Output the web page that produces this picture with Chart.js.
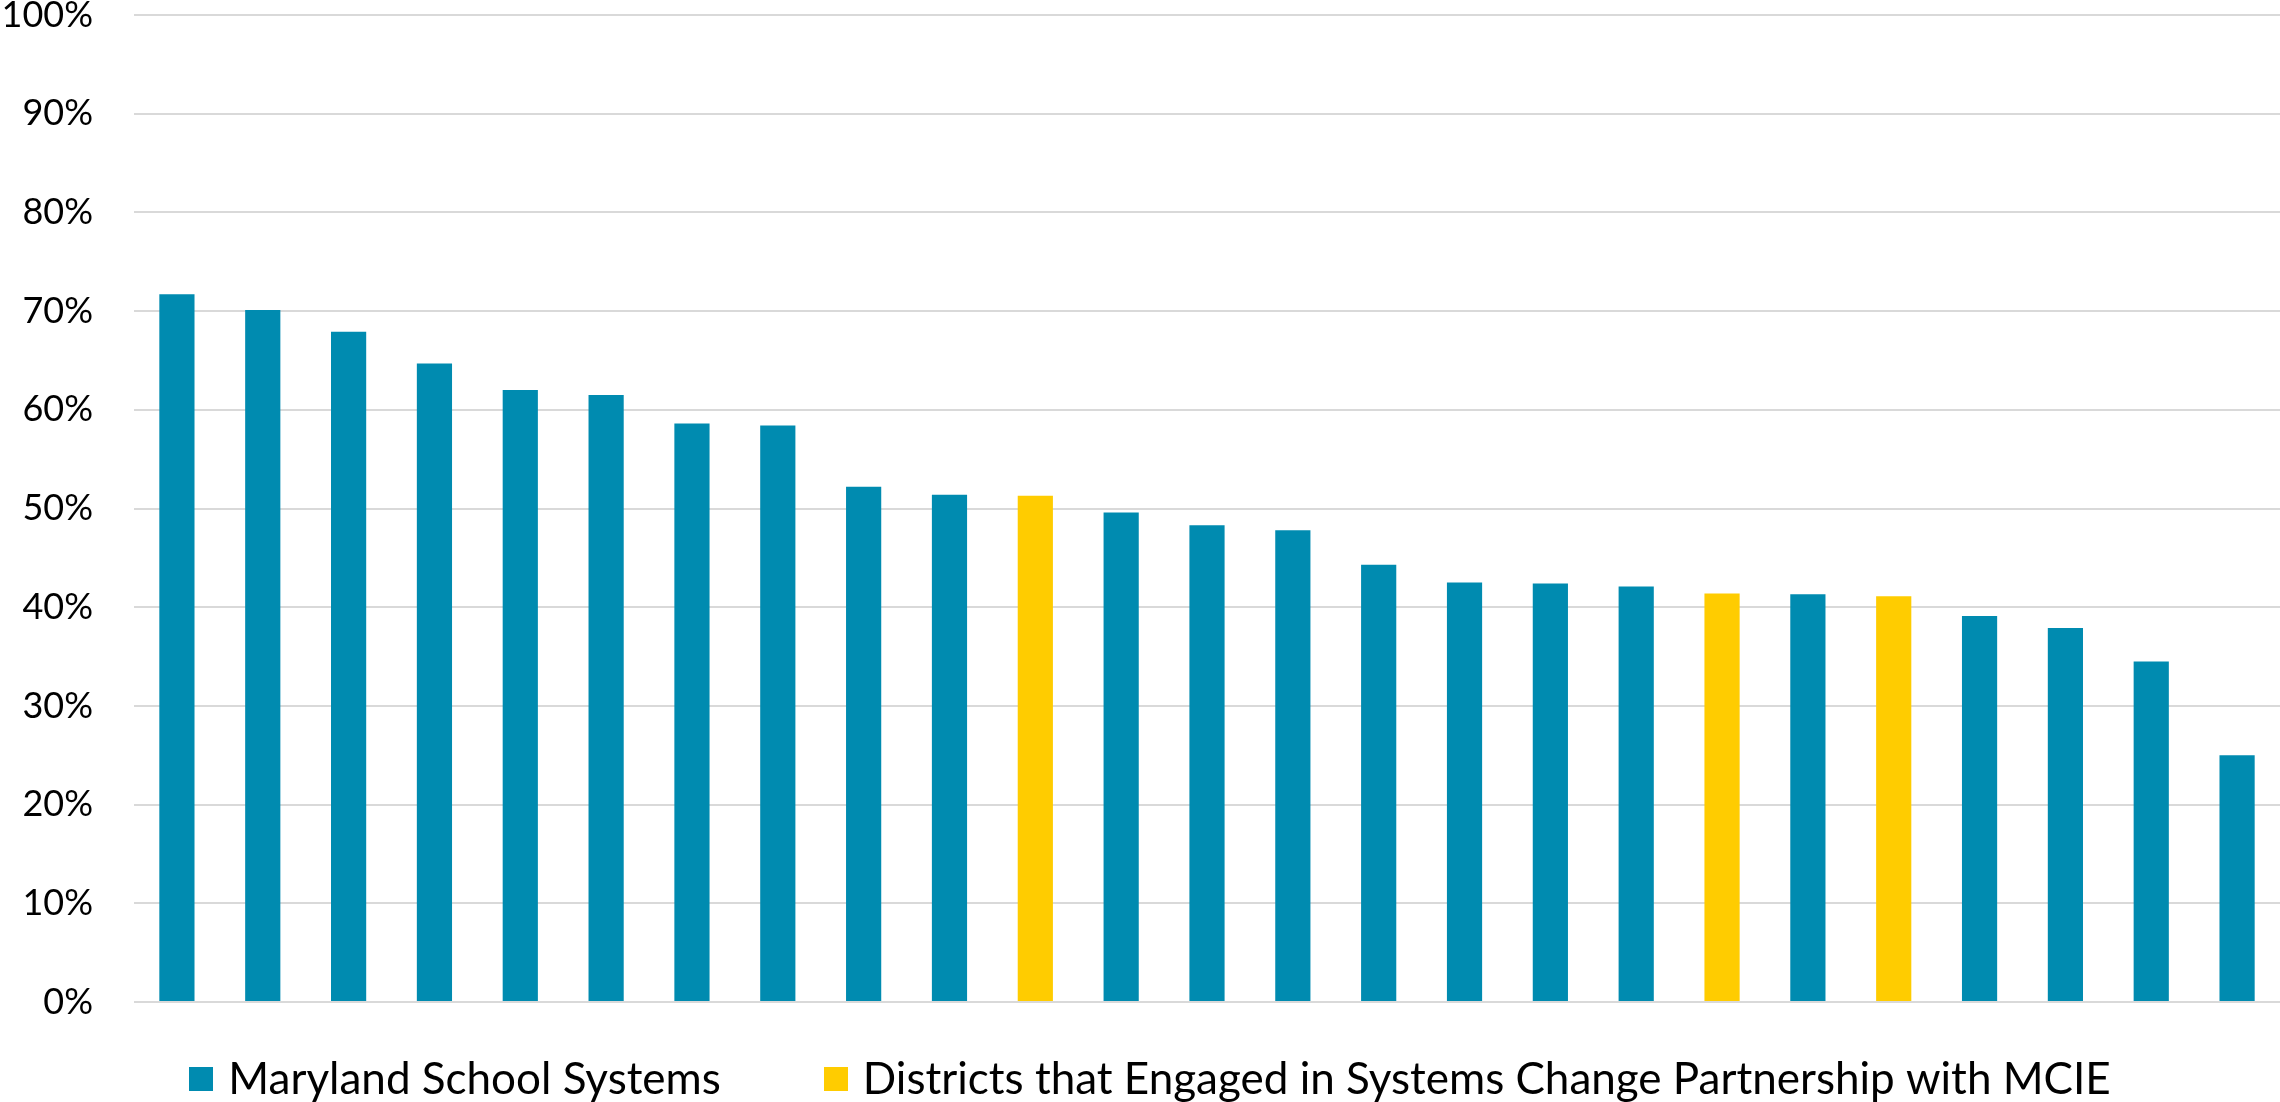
<!DOCTYPE html>
<html>
<head>
<meta charset="utf-8">
<script src="https://cdn.jsdelivr.net/npm/chart.js@4/dist/chart.umd.min.js"></script>
<style>
  html, body { margin: 0; padding: 0; background: #ffffff; }
  canvas { display: block; }
</style>
</head>
<body>
<canvas id="chart" width="2280" height="1102"></canvas>
<script>
// School systems ranked from highest to lowest share (%)
const categories = ['1','2','3','4','5','6','7','8','9','10','11','12','13',
                    '14','15','16','17','18','19','20','21','22','23','24','25'];

const marylandSystems = [71.7, 70.1, 67.9, 64.7, 62.0, 61.5, 58.6, 58.4, 52.2, 51.4,
                         null, 49.6, 48.3, 47.8, 44.3, 42.5, 42.4, 42.1, null, 41.3,
                         null, 39.1, 37.9, 34.5, 25.0];

const partnershipDistricts = [null, null, null, null, null, null, null, null, null, null,
                              51.3, null, null, null, null, null, null, null, 41.4, null,
                              41.1, null, null, null, null];

const yTicks = [0, 10, 20, 30, 40, 50, 60, 70, 80, 90, 100];

const seriesNames = ['Maryland School Systems',
                     'Districts that Engaged in Systems Change Partnership with MCIE'];

const TEAL = '#008bb0';
const GOLD = '#ffcc00';
const FONT = 'Lato, "Open Sans", sans-serif';

// Legend row drawn beneath the plot area
const bottomLegend = {
  id: 'bottomLegend',
  afterDraw(chart, args, opts) {
    const ctx = chart.ctx;
    ctx.save();
    ctx.font = opts.fontSize + 'px ' + FONT;
    ctx.textBaseline = 'middle';
    ctx.textAlign = 'left';
    const items = chart.data.datasets.map(ds => ({
      text: ds.label,
      color: ds.backgroundColor,
      w: ctx.measureText(ds.label).width
    }));
    const total = items.reduce((s, it) => s + opts.box + opts.gap + it.w, 0)
                + opts.spacing * (items.length - 1);
    let x = opts.centerX - total / 2;
    const y = opts.y;
    items.forEach(it => {
      ctx.fillStyle = it.color;
      ctx.fillRect(Math.round(x), Math.round(y - opts.box / 2), opts.box, opts.box);
      ctx.fillStyle = '#000000';
      ctx.fillText(it.text, x + opts.box + opts.gap, y + 1);
      x += opts.box + opts.gap + it.w + opts.spacing;
    });
    ctx.restore();
  }
};

new Chart(document.getElementById('chart'), {
  type: 'bar',
  data: {
    labels: categories,
    datasets: [
      {
        label: seriesNames[0],
        data: marylandSystems,
        backgroundColor: TEAL,
        grouped: false,
        categoryPercentage: 1,
        barPercentage: 0.41
      },
      {
        label: seriesNames[1],
        data: partnershipDistricts,
        backgroundColor: GOLD,
        grouped: false,
        categoryPercentage: 1,
        barPercentage: 0.41
      }
    ]
  },
  options: {
    responsive: false,
    animation: false,
    devicePixelRatio: 1,
    layout: { padding: { top: 15, right: 0, bottom: 100, left: 0 } },
    plugins: {
      legend: { display: false },
      tooltip: { enabled: false },
      bottomLegend: { fontSize: 44, box: 24, gap: 15, spacing: 103, centerX: 1150, y: 1079 }
    },
    scales: {
      x: {
        display: false,
        grid: { display: false }
      },
      y: {
        min: 0,
        max: 100,
        afterBuildTicks(scale) {
          scale.ticks = yTicks.map(v => ({ value: v }));
        },
        afterFit(scale) {
          scale.width = 134;
          scale.paddingTop = 0;
          scale.paddingBottom = 0;
        },
        border: { display: false },
        grid: {
          color: '#d9d9d9',
          lineWidth: 2,
          drawTicks: false
        },
        ticks: {
          padding: 41,
          color: '#000000',
          font: { family: FONT, size: 36 },
          callback: v => v + '%'
        }
      }
    }
  },
  plugins: [bottomLegend]
});
</script>
</body>
</html>
